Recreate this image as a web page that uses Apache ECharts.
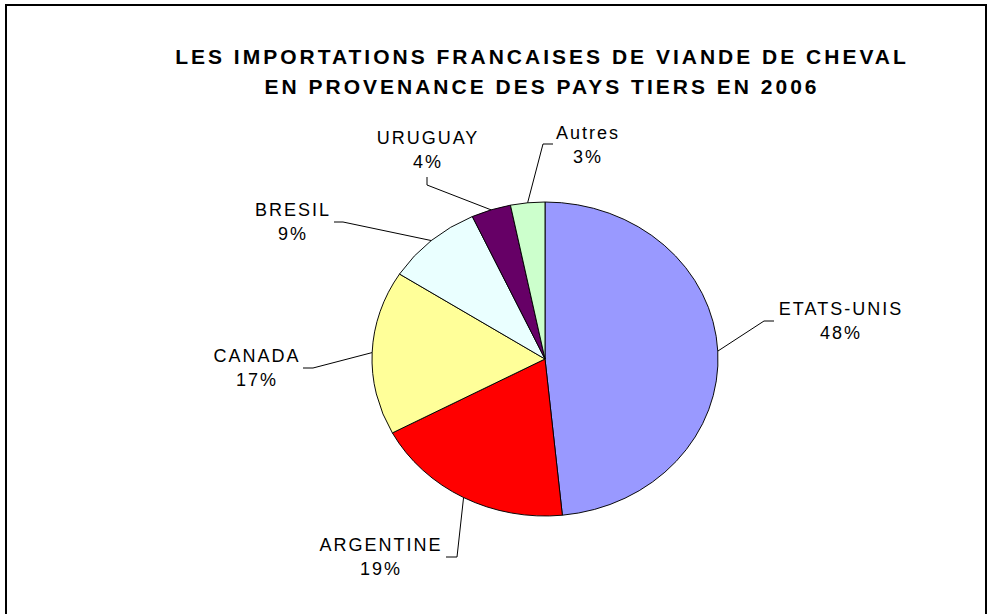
<!DOCTYPE html>
<html>
<head>
<meta charset="utf-8">
<title>Importations de viande de cheval 2006</title>
<script src="https://cdn.jsdelivr.net/npm/echarts@6.0.0/dist/echarts.min.js"></script>
<style>
html, body { margin: 0; padding: 0; background: #fff; overflow: hidden; }
#cadre { position: absolute; left: 5px; top: 4px; width: 978px; height: 700px; border: 2px solid #000; }
#pieChart, #labelChart { position: absolute; left: 0; top: 0; width: 988px; height: 614px; }
/* le camembert Excel est un peu ecrase verticalement */
#pieChart { transform: scaleY(0.9075); transform-origin: 545px 359px; }
#labelChart text { letter-spacing: 2px; }
#labelChart text[style*="bold"] { letter-spacing: 3px; }
</style>
</head>
<body>
<div id="cadre"></div>
<div id="pieChart"></div>
<div id="labelChart"></div>
<script>
// donnees
var titleLines = ['LES IMPORTATIONS FRANCAISES DE VIANDE DE CHEVAL', 'EN PROVENANCE DES PAYS TIERS EN 2006'];
var countryNames = ['ETATS-UNIS', 'ARGENTINE', 'CANADA', 'BRESIL', 'URUGUAY', 'Autres'];
var shareValues = [48.4, 18.8, 16.9, 9.0, 3.7, 3.2];

// style
var sliceColors = ['#9999FF', '#FF0000', '#FFFF99', '#EAFFFF', '#660066', '#CCFFCC'];
var pieCenter = [545, 359];
var pieRadius = 173;
var pieSquash = 157 / 173;
var labelSpots = [
	{ text: [841, 321], elbow: [764, 321], end: [774, 321] },
	{ text: [381, 557], elbow: [457, 557], end: [446, 557] },
	{ text: [257, 368], elbow: [313, 368], end: [303, 368] },
	{ text: [293, 222], elbow: [343, 222], end: [334, 222] },
	{ text: [428, 150], elbow: [427, 185], end: [427, 177] },
	{ text: [588, 145], elbow: [543, 144], end: [553, 144] }
];

var pieData = [];
for (var i = 0; i < countryNames.length; i++) {
	pieData.push({ name: countryNames[i], value: shareValues[i] });
}

// camembert (deforme par le css)
var pieChart = echarts.init(document.getElementById('pieChart'), null, { renderer: 'svg' });
pieChart.setOption({
	animation: false,
	color: sliceColors,
	series: [{
		type: 'pie',
		center: pieCenter,
		radius: pieRadius,
		startAngle: 90,
		clockwise: true,
		silent: true,
		label: { show: false },
		labelLine: { show: false },
		itemStyle: { borderColor: '#000', borderWidth: 1 },
		data: pieData
	}]
});

// titre + etiquettes
var labelChart = echarts.init(document.getElementById('labelChart'), null, { renderer: 'svg' });
labelChart.setOption({
	animation: false,
	title: {
		text: titleLines.join('\n'),
		left: 542,
		top: 41,
		padding: 0,
		textAlign: 'center',
		textStyle: {
			fontFamily: 'Liberation Sans',
			fontSize: 21,
			fontWeight: 'bold',
			color: '#000',
			lineHeight: 30
		}
	},
	series: [{
		type: 'pie',
		center: pieCenter,
		radius: pieRadius,
		startAngle: 90,
		clockwise: true,
		silent: true,
		avoidLabelOverlap: false,
		itemStyle: { color: 'rgba(0,0,0,0)', borderWidth: 0 },
		label: {
			show: true,
			position: 'outside',
			color: '#000',
			fontFamily: 'Liberation Sans',
			fontSize: 18,
			lineHeight: 24,
			formatter: function(p) {
				return p.name + '\n' + Math.round(p.percent) + '%';
			}
		},
		labelLine: { show: true, lineStyle: { color: '#000', width: 1 } },
		labelLayout: function(params) {
			var spot = labelSpots[params.dataIndex];
			var p0 = params.labelLinePoints[0];
			var start = [p0[0], pieCenter[1] + (p0[1] - pieCenter[1]) * pieSquash];
			return {
				x: spot.text[0],
				y: spot.text[1],
				align: 'center',
				verticalAlign: 'middle',
				labelLinePoints: [start, spot.elbow, spot.end]
			};
		},
		data: pieData
	}]
});
</script>
</body>
</html>
